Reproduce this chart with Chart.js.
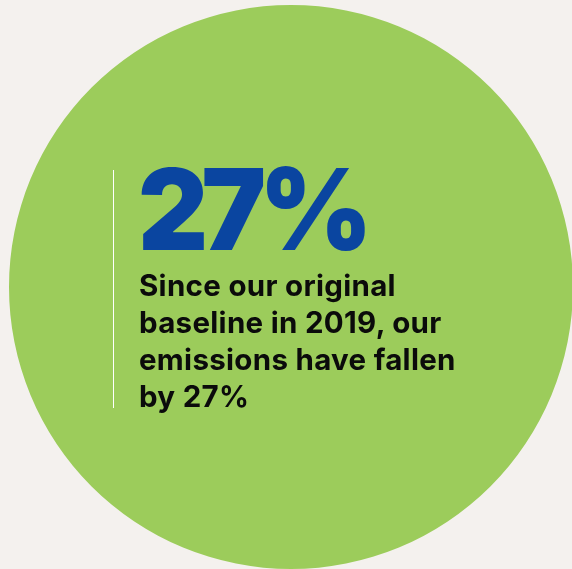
<!DOCTYPE html>
<html>
<head>
<meta charset="utf-8">
<script src="https://cdn.jsdelivr.net/npm/chart.js@4.4.1/dist/chart.umd.min.js"></script>
<style>
  html, body { margin:0; padding:0; width:572px; height:569px; overflow:hidden; background:#f4f1ee; }
  #wrap { position:absolute; left:9px; top:5px; width:564px; height:564px; }
  #rule { position:absolute; left:113px; top:170px; width:1px; height:238px; background:#ffffff; }
  #big { position:absolute; left:138px; top:153px; font-family:Inter, sans-serif; font-weight:900; font-size:113px; line-height:1; color:#0a45a0; letter-spacing:-7px; white-space:nowrap; transform:scaleX(0.96); transform-origin:0 0; }
  #body { position:absolute; left:139px; top:267px; font-family:Inter, sans-serif; font-weight:700; font-size:29.5px; line-height:37px; color:#0b0b0b; letter-spacing:0.3px; white-space:nowrap; }
</style>
</head>
<body>
<div id="wrap"><canvas id="c"></canvas></div>
<div id="rule"></div>
<div id="big"></div>
<div id="body"></div>
<script>
// Data
const categories = ['Emissions since 2019 baseline'];
const values = [100];
const headline = ['27%'];
const bodyLines = ['Since our original', 'baseline in 2019, our', 'emissions have fallen', 'by 27%'];

document.getElementById('big').textContent = headline[0];
document.getElementById('body').innerHTML = bodyLines.map(s => s.replace(/&/g,'&amp;')).join('<br>');

new Chart(document.getElementById('c'), {
  type: 'pie',
  data: {
    labels: categories,
    datasets: [{ data: values, backgroundColor: ['#9ccc5b'], borderWidth: 0, hoverOffset: 0 }]
  },
  options: {
    responsive: true,
    maintainAspectRatio: false,
    animation: false,
    layout: { padding: 0 },
    plugins: { legend: { display: false }, tooltip: { enabled: false }, title: { display: false } },
    events: []
  }
});
</script>
</body>
</html>
